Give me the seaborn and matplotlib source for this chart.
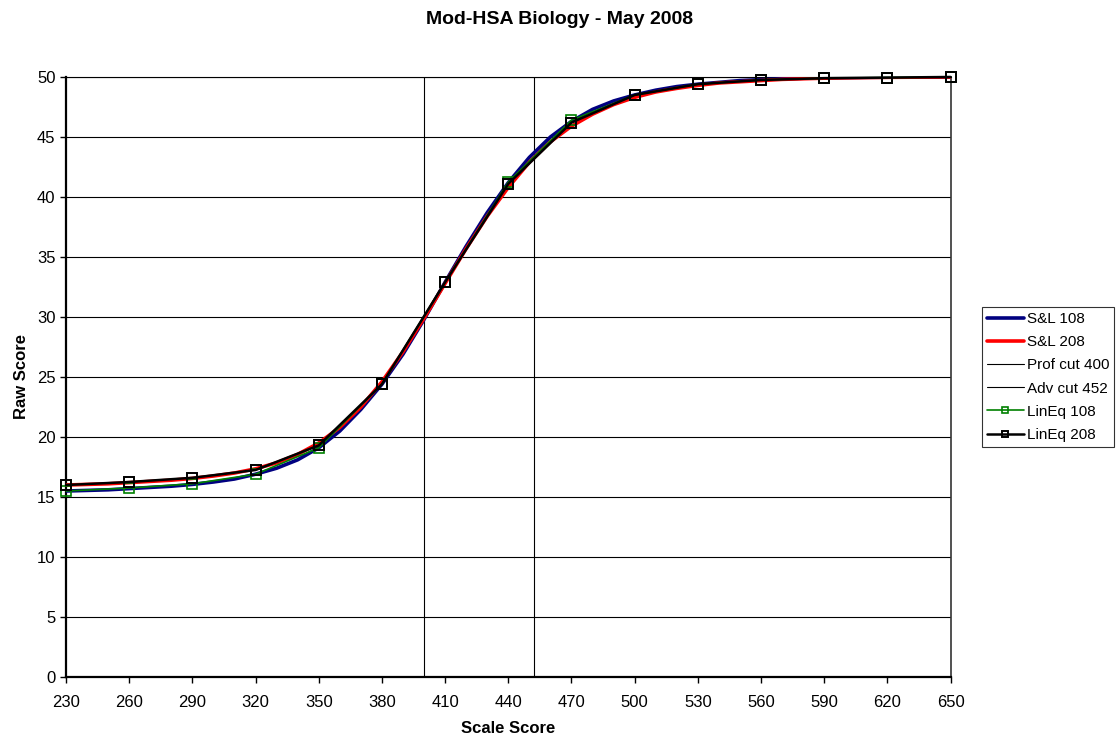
import numpy as np
import pandas as pd
import matplotlib
matplotlib.use('Agg')
import matplotlib.pyplot as plt
import seaborn as sns

# scale scores for the smooth S&L curves
x_sl = [230, 240, 250, 260, 270, 280, 290, 300, 310, 320, 330, 340, 350, 360, 370,
        380, 390, 400, 410, 420, 430, 440, 450, 460, 470, 480, 490, 500, 510, 520,
        530, 540, 550, 560, 570, 580, 590, 600, 610, 620, 630, 640, 650]
sl_108 = [15.5, 15.55, 15.6, 15.7, 15.8, 15.9, 16.05, 16.25, 16.5, 16.9, 17.4, 18.1,
          19.1, 20.5, 22.3, 24.4, 26.9, 29.8, 32.9, 35.9, 38.7, 41.2, 43.3, 45.0,
          46.3, 47.3, 48.0, 48.5, 48.9, 49.2, 49.4, 49.55, 49.7, 49.78, 49.85, 49.9,
          49.93, 49.95, 49.97, 49.98, 49.99, 49.99, 50.0]
sl_208 = [16.0, 16.05, 16.1, 16.2, 16.3, 16.4, 16.55, 16.75, 17.0, 17.35, 17.85, 18.55,
          19.5, 20.8, 22.5, 24.6, 27.1, 29.9, 32.8, 35.7, 38.4, 40.8, 42.9, 44.6,
          45.9, 46.9, 47.7, 48.3, 48.75, 49.05, 49.3, 49.5, 49.6, 49.7, 49.8, 49.85,
          49.9, 49.93, 49.95, 49.97, 49.98, 49.99, 50.0]

# marker points for the linear equating series
x_lin = [230, 260, 290, 320, 350, 380, 410, 440, 470, 500, 530, 560, 590, 620, 650]
lineq_108 = [15.5, 15.75, 16.1, 16.9, 19.1, 24.4, 32.9, 41.25, 46.4, 48.5, 49.4,
             49.75, 49.9, 49.95, 50.0]
lineq_208 = [16.0, 16.25, 16.6, 17.25, 19.3, 24.4, 32.9, 41.1, 46.2, 48.5, 49.4,
             49.75, 49.9, 49.95, 50.0]

prof_cut = 400
adv_cut = 452

sns.set_style('white')
plt.rcParams['font.family'] = ['Liberation Sans', 'DejaVu Sans']
plt.rcParams['text.color'] = 'black'
plt.rcParams['axes.labelcolor'] = 'black'

fig = plt.figure(figsize=(11.19, 7.43), dpi=100)
ax = fig.add_axes([0.059, 0.0888, 0.7905, 0.8076])

sl = pd.DataFrame({'x': x_sl, 'S&L 108': sl_108, 'S&L 208': sl_208})
lin = pd.DataFrame({'x': x_lin, 'LinEq 108': lineq_108, 'LinEq 208': lineq_208})

for y in range(5, 51, 5):
    ax.axhline(y, color='black', lw=0.8, zorder=1)

sns.lineplot(data=sl, x='x', y='S&L 108', ax=ax, color='#000080', lw=2.6,
             label='S&L 108', zorder=3)
sns.lineplot(data=sl, x='x', y='S&L 208', ax=ax, color='red', lw=2.6,
             label='S&L 208', zorder=3)
ax.axvline(prof_cut, color='black', lw=0.8, label='Prof cut 400', zorder=2)
ax.axvline(adv_cut, color='black', lw=0.8, label='Adv cut 452', zorder=2)
sns.lineplot(data=lin, x='x', y='LinEq 108', ax=ax, color='green', lw=1.2,
             marker='s', markersize=7, markerfacecolor='none',
             markeredgecolor='green', markeredgewidth=1.2, label='LinEq 108',
             zorder=4, clip_on=False)
sns.lineplot(data=lin, x='x', y='LinEq 208', ax=ax, color='black', lw=1.8,
             marker='s', markersize=7, markerfacecolor='none',
             markeredgecolor='black', markeredgewidth=1.4, label='LinEq 208',
             zorder=5, clip_on=False)

ax.set_xlim(230, 650)
ax.set_ylim(0, 50)
ax.set_xticks([230, 260, 290, 320, 350, 380, 410, 440, 470, 500, 530, 560, 590, 620, 650])
ax.set_yticks(range(0, 51, 5))
ax.tick_params(axis='both', direction='out', length=4, width=1, labelsize=12,
               left=True, bottom=True, colors='black')
ax.tick_params(axis='x', pad=9)
for side in ['left', 'bottom']:
    ax.spines[side].set_linewidth(1.6)
    ax.spines[side].set_color('black')
ax.spines['right'].set_linewidth(1.2)
ax.spines['right'].set_color('#333333')
ax.spines['top'].set_linewidth(0.8)
ax.spines['top'].set_color('black')

ax.set_xlabel('Scale Score', fontsize=12, fontweight='bold', labelpad=8)
ax.set_ylabel('Raw Score', fontsize=12, fontweight='bold', labelpad=6)
fig.suptitle('Mod-HSA Biology - May 2008', fontsize=14, fontweight='bold', y=0.985)

leg = ax.legend(loc='center left', bbox_to_anchor=(1.035, 0.5), fontsize=11,
                frameon=True, fancybox=False, handlelength=2.4, handletextpad=0.2,
                borderpad=0.35, labelspacing=0.6, borderaxespad=0, markerscale=0.6)
leg.get_frame().set_edgecolor('black')
leg.get_frame().set_linewidth(0.8)

fig.savefig('out.png', dpi=100)
